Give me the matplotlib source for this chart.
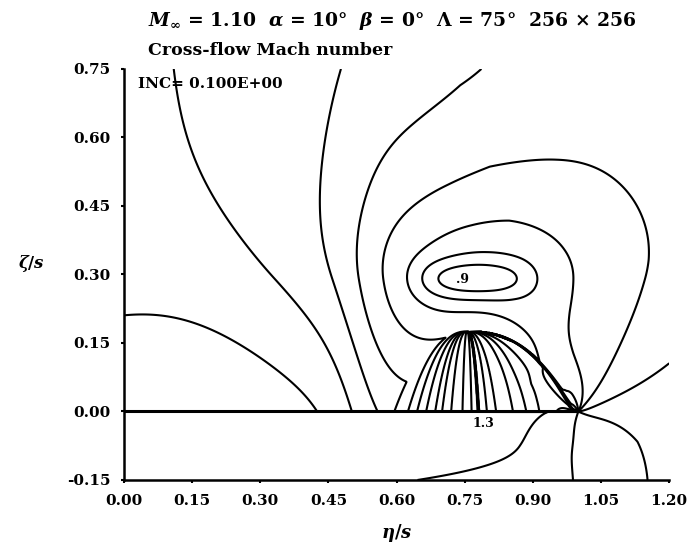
import numpy as np
import matplotlib
matplotlib.use("Agg")
import matplotlib.pyplot as plt

# contour increment INC = 0.1
levels = np.round(np.arange(0.1, 1.55, 0.1), 2)

# leading edge of the flat wing (eta/s, zeta/s)
edge = (1.0, 0.0)

# primary vortex: core, x-stretch, y-stretch below core, ring law
core = (0.775, 0.29)
core_stretch = (1.6, 1.4)
squeeze_amp, squeeze_x, squeeze_w = 0.7, 0.8, 0.15
ring_level, ring_radius, ring_slope, core_radius = 0.61, 0.255, 0.22, 0.07
core_peak, core_size = 0.17, (0.13, 0.042)

# background trend, upper corners and inboard suction near the upper surface
bg_base, bg_span, bg_scale, bg_height = -0.26, 0.17, 0.75, 0.15
outboard_amp, outboard_x = 0.10, 0.9
inboard_top = 0.03
suction_amp, suction_scale, suction_end, suction_depth = -0.23, 0.3, 0.515, 0.52
suction_root = 0.2

# region under the vortex: surface stations and values, lines gather at the knot
knot = (0.755, 0.175)
knot_power = 0.4
pocket_x0 = [0.55, 0.58, 0.625, 0.645, 0.665, 0.685, 0.70, 0.72, 0.745, 0.765,
             0.778, 0.782, 0.80, 0.82, 0.86, 0.89, 0.92, 0.96, 0.985, 0.998]
pocket_val = [0.0, 0.45, 0.6, 0.7, 0.8, 0.9, 1.0, 1.1, 1.2, 1.3,
              1.36, 0.75, 0.8, 0.9, 1.0, 1.1, 1.2, 1.3, 1.36, 0.0]

# values met at the leading edge, by direction (deg) around it
edge_dir = [-180, -150, -110, -60, -27, 0, 5, 25, 35, 45, 65, 95, 120, 135, 150, 165, 180]
edge_val = [0.20, 0.25, 0.30, 0.36, 0.40, 0.47, 0.50, 0.54, 0.56, 0.60, 0.70, 0.80,
            0.90, 1.0, 1.1, 1.25, 1.35]
decay_dir = [0, 20, 110, 150, 180]
decay_len = [0.15, 0.22, 0.22, 0.04, 0.04]
edge_decay_low = 0.15

# lower side: sweep of the 0.2 contour and outboard rise
low_base, low_step, low_rise = 0.15, 0.07, 0.20
low_mid, low_width = 1.02, 0.05


def edge_polar(X, Y, lower):
    u = X - edge[0]
    v = Y - edge[1]
    if lower:
        th = -np.degrees(np.arctan2(-v, u))
    else:
        th = np.degrees(np.arctan2(v, u))
    return np.hypot(u, v), th


def sig(t):
    return 1.0 / (1.0 + np.exp(-t))


def lower_far(X, Y):
    s = np.clip(-Y / 0.15, 0, 1)
    x0 = 0.965 - 0.34 * s**3.0
    return (low_base + low_step * sig((X - x0) / 0.03)
            + low_rise * sig((X - low_mid) / low_width))


def edge_blend(F, th, r, decay):
    w = np.exp(-r / decay)
    return (1 - w) * F + w * np.interp(th, edge_dir, edge_val)


def lower_field(X, Y):
    r, th = edge_polar(X, Y, lower=True)
    return edge_blend(lower_far(X, Y), th, r, edge_decay_low)


def upper_far(X, Y):
    below = core_stretch[1] - squeeze_amp * np.exp(-((X - squeeze_x) / squeeze_w)**2)
    dx = (X - core[0]) / core_stretch[0]
    dy = np.where(Y > core[1], Y - core[1], (Y - core[1]) / below)
    rho = np.sqrt(dx**2 + dy**2 + core_radius**2)
    rings = ring_level - ring_slope * np.log(rho / ring_radius)
    # flat-topped core of the vortex
    rings += core_peak * np.exp(-((X - core[0]) / core_size[0])**4
                                - ((Y - core[1]) / core_size[1])**2)
    h = Y / 0.75
    trend = bg_base + bg_span * np.tanh(X / bg_scale) + bg_height * Y
    trend += outboard_amp * sig((X - outboard_x) / 0.1) * h**2
    trend += inboard_top * h**2 * (1 - np.tanh(X / 0.5))
    spread = suction_root + (1 - suction_root) * np.tanh(X / suction_scale)
    suction = (suction_amp * spread * sig((suction_end - X) / 0.035)
               * np.exp(-(Y / suction_depth)**2))
    return rings + trend + suction


def pocket(X, Y):
    depth = np.clip(knot[1] - Y, 1e-9, None)
    xi = (X - knot[0]) / depth**knot_power
    xi_k = (np.array(pocket_x0) - knot[0]) / knot[1]**knot_power
    g = np.interp(xi, xi_k, pocket_val)
    return np.where(Y < knot[1], g, 0.0)


def upper_field(X, Y):
    r, th = edge_polar(X, Y, lower=False)
    decay = np.interp(th, decay_dir, decay_len)
    up = edge_blend(np.maximum(upper_far(X, Y), pocket(X, Y)), th, r, decay)
    # ahead of the edge the field joins the lower side smoothly
    low = edge_blend(lower_far(X, np.zeros_like(Y)), th, r, edge_decay_low)
    b = np.clip(th / 35.0, 0, 1)
    b = b * b * (3 - 2 * b)
    return (1 - b) * low + b * up


x = np.linspace(0.0, 1.2, 961)
yu = np.linspace(0.0, 0.75, 601)
yl = np.linspace(-0.15, 0.0, 121)
XU, YU = np.meshgrid(x, yu)
XL, YL = np.meshgrid(x, yl)
MU = upper_field(XU, YU)
ML = lower_field(XL, YL)

plt.rcParams['font.family'] = ['DejaVu Serif']
plt.rcParams['font.weight'] = 'bold'
plt.rcParams['mathtext.fontset'] = 'dejavuserif'

fig = plt.figure(figsize=(6.91, 5.54), dpi=100)
ax = fig.add_axes([0.1795, 0.1336, 0.789, 0.742])

ax.contour(XU, YU, MU, levels=levels, colors='black', linewidths=1.5)
ax.contour(XL, YL, ML, levels=levels, colors='black', linewidths=1.5)
ax.plot([0.0, edge[0]], [0.0, 0.0], color='black', lw=2.2)

ax.text(0.746, 0.29, '.9', fontsize=9, ha='center', va='center')
ax.text(0.79, -0.027, '1.3', fontsize=9, ha='center', va='center')
ax.text(0.03, 0.716, 'INC= 0.100E+00', fontsize=11, ha='left', va='center')

ax.set_xlim(0.0, 1.2)
ax.set_ylim(-0.15, 0.75)
ticks_x = np.arange(0, 1.21, 0.15)
ticks_y = np.arange(-0.15, 0.76, 0.15)
ax.set_xticks(ticks_x)
ax.set_yticks(ticks_y)
ax.set_xticklabels([f'{v:.2f}' for v in ticks_x])
ax.set_yticklabels([f'{v:.2f}' for v in ticks_y])
ax.tick_params(length=2, width=1.5, labelsize=11, pad=8)
for side in ('top', 'right'):
    ax.spines[side].set_visible(False)
for side in ('left', 'bottom'):
    ax.spines[side].set_linewidth(1.8)

ax.set_xlabel(r'$\eta/s$', fontsize=13, labelpad=10)
ax.set_ylabel(r'$\zeta/s$', fontsize=12, rotation=0)
ax.yaxis.set_label_coords(-0.17, 0.5)

fig.text(0.214, 0.962, r'$M_\infty$ = 1.10  $\alpha$ = 10°  $\beta$ = 0°  $\Lambda$ = 75°  256 × 256',
         fontsize=13.5, ha='left', va='center')
fig.text(0.214, 0.908, 'Cross-flow Mach number', fontsize=12.5, ha='left', va='center')

fig.savefig('out.png', dpi=100)
